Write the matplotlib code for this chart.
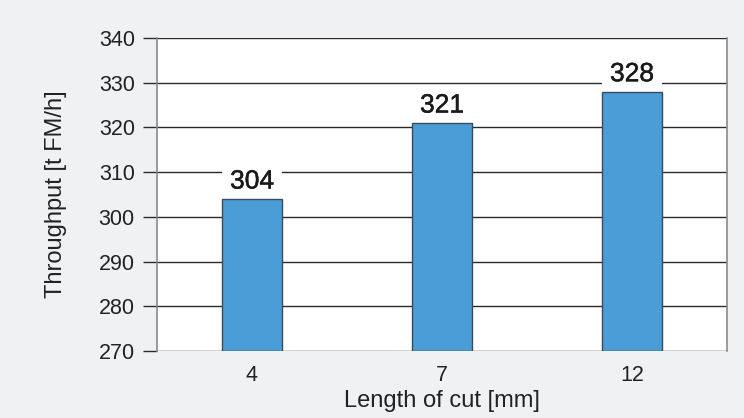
import matplotlib.pyplot as plt
import matplotlib.patheffects as pe

categories = ["4", "7", "12"]
throughput = [304, 321, 328]
yticks = [270, 280, 290, 300, 310, 320, 330, 340]

plt.rcParams['font.family'] = ['Liberation Sans', 'DejaVu Sans']

fig = plt.figure(figsize=(7.44, 4.18), dpi=100, facecolor='#f0f1f3')
ax = fig.add_axes([157/744, 1 - 351/418, (727 - 157)/744, (351 - 38)/418])
ax.set_facecolor('white')

x = range(len(categories))
ax.bar(x, [v - yticks[0] for v in throughput], bottom=yticks[0], width=0.32,
       color='#4a9dd6', edgecolor='#3a4a5a', linewidth=1.0, zorder=3)

# value labels sit under the bars so their white boxes only hide the gridlines
for xi, v in zip(x, throughput):
    ax.annotate(str(v), (xi, v), xytext=(0, 7.5), textcoords='offset points',
                ha='center', va='baseline', fontsize=19, color='#1a1a1a',
                bbox=dict(boxstyle='square,pad=0.3', fc='white', ec='none'),
                path_effects=[pe.withStroke(linewidth=0.35, foreground='#1a1a1a')],
                zorder=2)

ax.set_xlim(-0.5, 2.5)
ax.set_ylim(yticks[0], yticks[-1])
ax.set_yticks(yticks)
ax.set_xticks(list(x))
ax.set_xticklabels(categories)

ax.yaxis.grid(True, color='#2a2a2a', linewidth=1.0)
ax.set_axisbelow(True)

ax.tick_params(axis='y', length=10, width=1.0, color='#2a2a2a', pad=6,
               labelsize=15.5, labelcolor='#222222')
ax.tick_params(axis='x', length=0, pad=10, labelsize=15.5, labelcolor='#222222')

for side in ['left', 'right']:
    ax.spines[side].set_color('#8a8a8a')
    ax.spines[side].set_linewidth(1.2)
for side in ['top', 'bottom']:
    ax.spines[side].set_visible(False)

ax.set_ylabel("Throughput [t FM/h]", fontsize=17, color='#222222', labelpad=23)
ax.set_xlabel("Length of cut [mm]", fontsize=17, color='#222222', labelpad=3)

fig.savefig("out.png", dpi=100, facecolor=fig.get_facecolor())
